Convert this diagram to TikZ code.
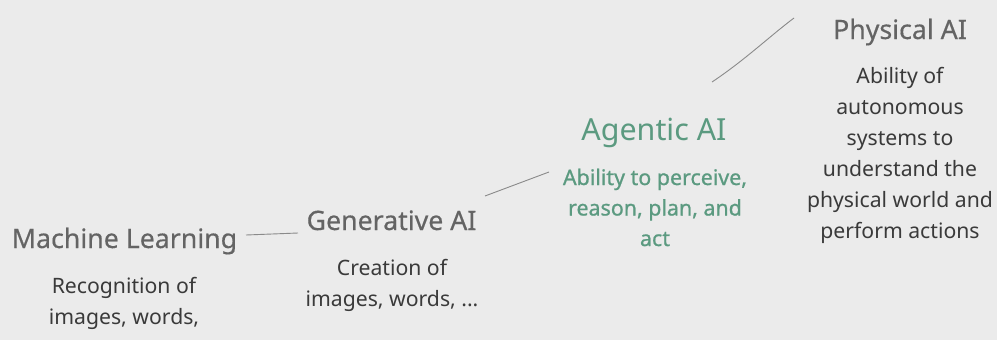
\documentclass[tikz,border=0pt]{standalone}
\usepackage{fontspec}
\setmainfont{Noto Sans}
\newfontfamily\semib{Noto Sans}[UprightFeatures={FakeBold=0.9}]
\newfontfamily\medf{Noto Sans}[UprightFeatures={FakeBold=0.45}]
\definecolor{bg}{HTML}{EBEBEB}
\definecolor{ttl}{HTML}{646464}
\definecolor{dsc}{HTML}{3A3A3A}
\definecolor{grn}{HTML}{5B9A80}
\definecolor{lin}{HTML}{8A8A8A}
\tikzset{
  title/.style={anchor=base, inner sep=0pt, text=ttl, font=\medf\fontsize{26.7}{30}\selectfont},
  desc/.style={anchor=base, inner sep=0pt, align=center, text=dsc, font=\fontsize{21.2}{31}\selectfont},
  gdesc/.style={desc, text=grn, font=\semib\fontsize{21.4}{30.5}\selectfont},
  conn/.style={draw=lin, line width=0.9pt}
}
\begin{document}
\begin{tikzpicture}[x=1pt,y=-1pt]
\fill[bg] (0,0) rectangle (997,340);
\useasboundingbox (0,0) rectangle (997,340);
\node[title] (ml) at (124.5,248) {Machine Learning};
\node[desc] (mld) at (124,324) {Recognition of\\images, words,};
\node[title] (gen) at (391.5,230) {Generative AI};
\node[desc] (gend) at (392,306) {Creation of\\images, words, ...};
\node[title, text=grn, font=\fontsize{30.4}{34}\selectfont] (ag) at (654,140) {Agentic AI};
\node[gdesc] (agd) at (655,246) {Ability to perceive,\\reason, plan, and\\act};
\node[title] (ph) at (900,39) {Physical AI};
\node[desc] (phd) at (900,238) {Ability of\\autonomous\\systems to\\understand the\\physical world and\\perform actions};
\coordinate (a1) at (246,235);
\coordinate (a2) at (298,233);
\coordinate (b1) at (485,196);
\coordinate (b2) at (549,172);
\coordinate (c1) at (712,82);
\coordinate (c2) at (794,18);
\draw[conn] (a1) -- (a2);
\draw[conn] (b1) -- (b2);
\draw[conn] (c1) .. controls (745,60) and (770,36) .. (c2);
\end{tikzpicture}
\end{document}
